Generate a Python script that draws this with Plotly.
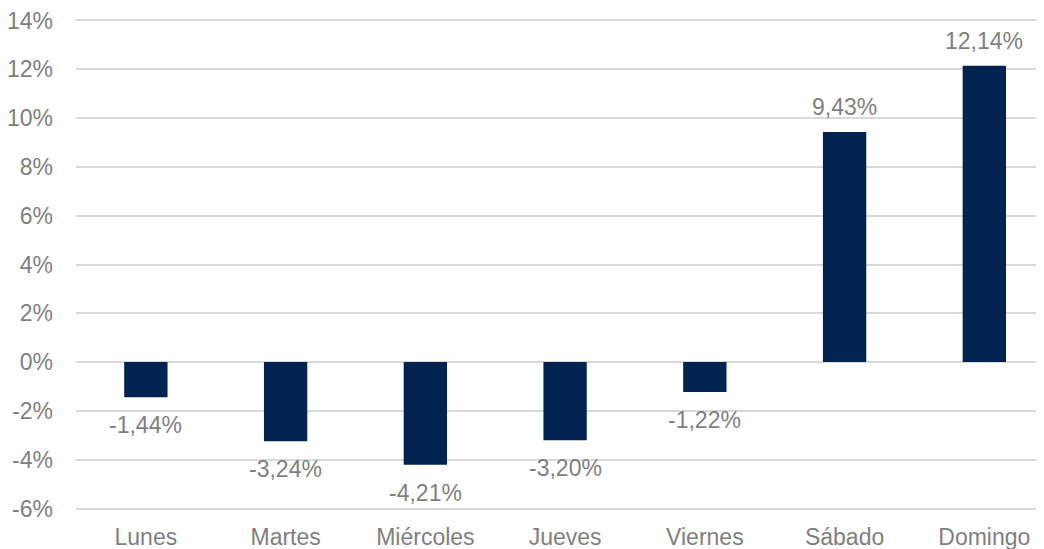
import plotly.graph_objects as go

categories = ["Lunes", "Martes", "Miércoles", "Jueves", "Viernes", "Sábado", "Domingo"]
values = [-1.44, -3.24, -4.21, -3.20, -1.22, 9.43, 12.14]
tick_values = [-6, -4, -2, 0, 2, 4, 6, 8, 10, 12, 14]
tick_labels = [f"{v}%" for v in tick_values]
value_labels = [f"{v:.2f}".replace(".", ",") + "%" for v in values]

BAR = "#002352"
TXT = "#7f7f7f"
FONT = "Liberation Sans, Arial, sans-serif"
FS = 23

fig = go.Figure()
fig.add_trace(go.Bar(x=categories, y=values, marker=dict(color=BAR, line=dict(width=0)),
                     hoverinfo="skip"))

for c, v, t in zip(categories, values, value_labels):
    fig.add_annotation(x=c, y=v, text=t, showarrow=False, xanchor="center", yanchor="middle",
                       yshift=25 if v >= 0 else -28,
                       font=dict(family=FONT, size=FS, color=TXT))

fig.update_layout(
    width=1036, height=541,
    margin=dict(l=68, r=0, t=9.5, b=37.6, autoexpand=False),
    paper_bgcolor="white", plot_bgcolor="white",
    bargap=0.69,
    showlegend=False,
    font=dict(family=FONT, size=FS, color=TXT),
)
fig.update_xaxes(range=[-0.5, 6.427], showgrid=False, zeroline=False, showline=False,
                 ticks="", automargin=False, tickfont=dict(family=FONT, size=FS, color=TXT),
                 ticklabelstandoff=10, ticklabeloverflow="allow")
fig.update_yaxes(range=[-6.1, 14.1], tickvals=tick_values, ticktext=tick_labels,
                 showgrid=True, gridcolor="#d9d9d9", gridwidth=1.5,
                 zeroline=False, showline=False, ticks="", automargin=False,
                 tickfont=dict(family=FONT, size=FS, color=TXT),
                 ticklabelstandoff=22, ticklabeloverflow="allow")

fig.write_html("out.html")
